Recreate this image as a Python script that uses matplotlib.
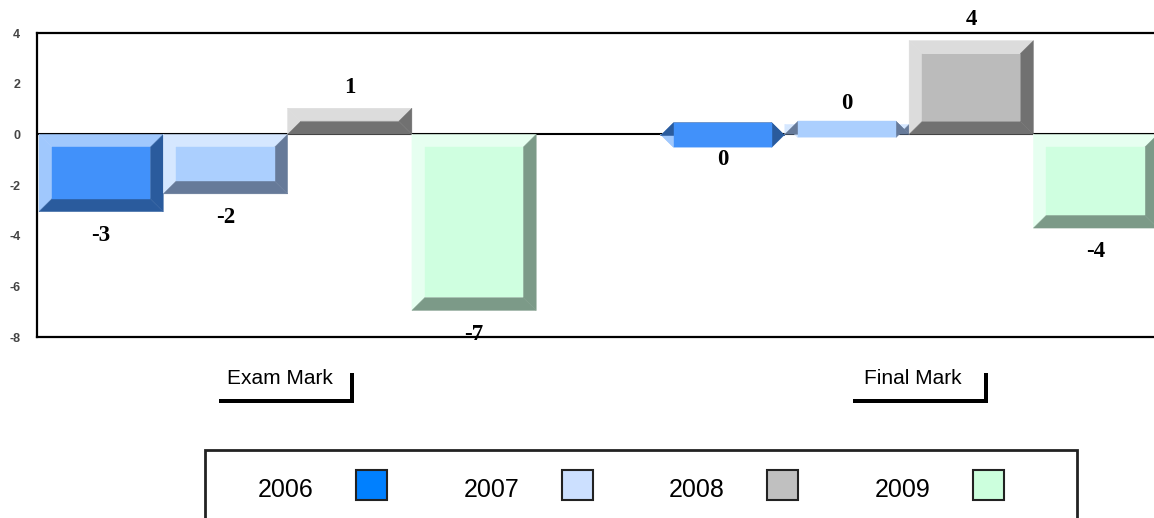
import matplotlib
matplotlib.use("Agg")
import matplotlib.pyplot as plt
import matplotlib.transforms as mtransforms
from matplotlib.patches import Polygon, Rectangle

GROUPS = ["Exam Mark", "Final Mark"]
YEARS = ["2006", "2007", "2008", "2009"]
EXAM = [-3.05, -2.35, 1.03, -6.95]
FINAL = [-0.05, 0.39, 3.7, -3.7]
Y_TICKS = [4, 2, 0, -2, -4, -6, -8]

# face / light bevel / dark bevel / legend swatch per year
FACE = ["#4191fa", "#abcffe", "#bbbbbb", "#cfffe0"]
LIGHT = ["#a0c8fd", "#d5e7ff", "#dcdcdc", "#e6fff0"]
DARK = ["#2a5b9d", "#667a99", "#717171", "#7c9a88"]
SWATCH = ["#0080ff", "#cce0ff", "#c0c0c0", "#ccffdd"]

BEVEL_X = 0.105
BEVEL_Y = 0.51
LABEL_NUDGE = [0, 12]
PX = mtransforms.IdentityTransform()
H = 518


def bevel_bar(ax, x0, x1, value, i):
    # fixed-size bevel, like the original renderer (small bars overlap)
    y0, y1 = min(0, value), max(0, value)
    ix0, ix1, iy0, iy1 = x0 + BEVEL_X, x1 - BEVEL_X, y0 + BEVEL_Y, y1 - BEVEL_Y
    parts = [
        ([(x0, y1), (x1, y1), (ix1, iy1), (ix0, iy1)], LIGHT[i]),
        ([(x0, y0), (x0, y1), (ix0, iy1), (ix0, iy0)], LIGHT[i]),
        ([(x0, y0), (x1, y0), (ix1, iy0), (ix0, iy0)], DARK[i]),
        ([(x1, y0), (x1, y1), (ix1, iy1), (ix1, iy0)], DARK[i]),
        ([(ix0, iy0), (ix1, iy0), (ix1, iy1), (ix0, iy1)], FACE[i]),
    ]
    for pts, color in parts:
        ax.add_patch(Polygon(pts, closed=True, facecolor=color,
                             edgecolor=color, lw=0.3, zorder=3))


fig = plt.figure(figsize=(11.54, 5.18), dpi=100)
ax = fig.add_axes([37 / 1154, 1 - 337 / H, 1 - 37 / 1154, (337 - 33) / H])
ax.set_xlim(-0.016, 8.97)
ax.set_ylim(-8, 4)
ax.axhline(0, color="black", lw=1.5, zorder=1)

for g, values in enumerate([EXAM, FINAL]):
    start = g * (len(YEARS) + 1)
    for i, v in enumerate(values):
        x0 = start + i
        bevel_bar(ax, x0, x0 + 1, v, i)
        off = 15 if v >= 0 else -17
        ax.annotate(f"{int(round(v))}", (x0 + 0.5, v), xytext=(0, off),
                    textcoords="offset points", ha="center", va="center",
                    fontsize=16.5, fontweight="bold", family="Liberation Serif",
                    annotation_clip=False, zorder=5)

ax.set_yticks(Y_TICKS)
ax.set_yticklabels([str(t) for t in Y_TICKS], fontsize=9, fontweight="bold",
                   color="#444444", family="Liberation Sans")
ax.tick_params(axis="y", length=0, pad=12)
ax.set_xticks([])
for side in ["left", "top", "bottom"]:
    ax.spines[side].set_linewidth(1.6)
    ax.spines[side].set_color("black")
ax.spines["right"].set_visible(False)

# group labels with a drop shadow box
fig.canvas.draw()
for g, name in enumerate(GROUPS):
    center = g * (len(YEARS) + 1) + len(YEARS) / 2
    cx = ax.transData.transform((center, 0))[0] + LABEL_NUDGE[g]
    w, h = 135, 30
    left, top = cx - w / 2 - 5, 369
    fig.patches.append(Rectangle((left + 4, H - top - h - 4), w, h, transform=PX,
                                 facecolor="black", edgecolor="none"))
    fig.patches.append(Rectangle((left, H - top - h), w, h, transform=PX,
                                 facecolor="white", edgecolor="none"))
    fig.text(cx - 8, H - 378, name, transform=PX, ha="center", va="center",
             fontsize=15, family="Liberation Sans")

# legend box
fig.patches.append(Rectangle((205, H - 545), 872, 95, transform=PX,
                             facecolor="white", edgecolor="#222222", lw=2))
for i, year in enumerate(YEARS):
    tx = 258 + 205.5 * i
    fig.text(tx, H - 490, year, transform=PX, ha="left", va="center",
             fontsize=18, family="Liberation Sans")
    fig.patches.append(Rectangle((tx + 98, H - 500), 31, 30, transform=PX,
                                 facecolor=SWATCH[i], edgecolor="#222222", lw=1.5))

fig.savefig("out.png", dpi=100)
